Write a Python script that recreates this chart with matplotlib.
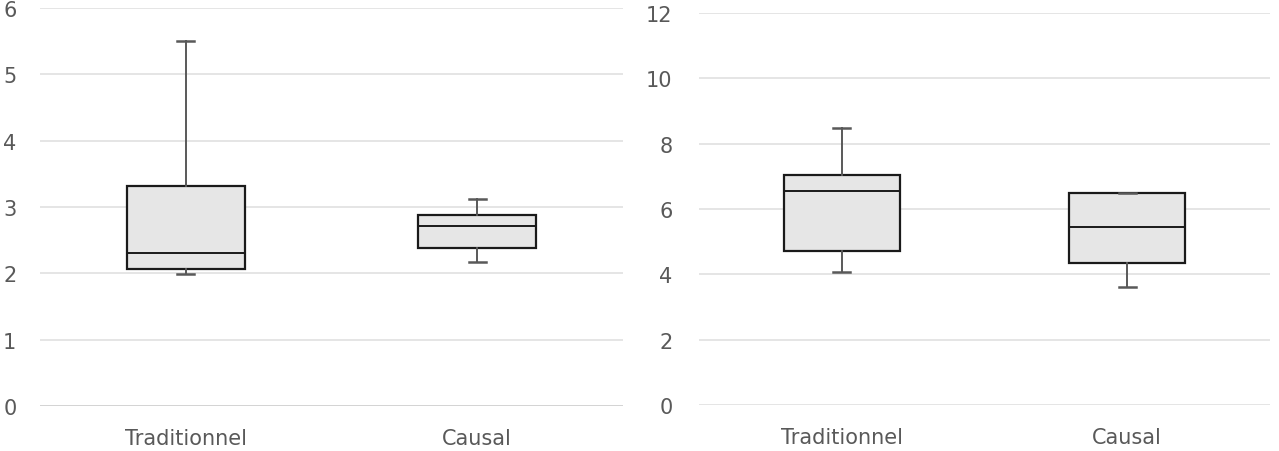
import matplotlib
matplotlib.use("Agg")
from matplotlib import pyplot as plt

plt.rcParams['font.family'] = ['DejaVu Sans']

categories = ['Traditionnel', 'Causal']

# left chart: min, q1, median, q3, max
left_min = [1.99, 2.17]
left_q1 = [2.07, 2.38]
left_med = [2.31, 2.71]
left_q3 = [3.32, 2.88]
left_max = [5.50, 3.12]
left_ticks = [0, 1, 2, 3, 4, 5, 6]

# right chart
right_min = [4.07, 3.60]
right_q1 = [4.70, 4.35]
right_med = [6.55, 5.44]
right_q3 = [7.03, 6.49]
right_max = [8.47, 6.49]
right_ticks = [0, 2, 4, 6, 8, 10, 12]

grey_text = '#595959'
grid_col = '#e0e0e0'
fill_col = '#e6e6e6'


def make_stats(mins, q1s, meds, q3s, maxs):
    stats = []
    for i in range(len(categories)):
        stats.append({'whislo': mins[i], 'q1': q1s[i], 'med': meds[i],
                      'q3': q3s[i], 'whishi': maxs[i], 'fliers': [],
                      'label': categories[i]})
    return stats


def draw(ax, stats, ticks):
    ax.bxp(stats, positions=[1, 2], widths=0.405, patch_artist=True,
           showfliers=False, capwidths=0.058,
           boxprops=dict(facecolor=fill_col, edgecolor='#1a1a1a', linewidth=1.6),
           medianprops=dict(color='#1a1a1a', linewidth=1.4),
           whiskerprops=dict(color='#595959', linewidth=1.4),
           capprops=dict(color='#595959', linewidth=1.8))
    ax.set_xlim(0.5, 2.5)
    ax.set_ylim(ticks[0], ticks[-1])
    ax.set_yticks(ticks)
    ax.set_xticks([1, 2])
    ax.set_xticklabels(categories)
    for s in ax.spines.values():
        s.set_visible(False)
    ax.yaxis.grid(True, color=grid_col, linewidth=1.2)
    ax.set_axisbelow(True)
    ax.tick_params(axis='both', length=0, labelsize=15, labelcolor=grey_text)
    ax.tick_params(axis='x', pad=16)


fig = plt.figure(figsize=(12.79, 4.52), dpi=100)

ax1 = fig.add_axes([0.0313, 0.0996, 0.4558, 0.8805])
draw(ax1, make_stats(left_min, left_q1, left_med, left_q3, left_max), left_ticks)
ax1.tick_params(axis='y', pad=17)
ax1.get_ygridlines()[0].set_color('#cccccc')

ax2 = fig.add_axes([0.5465, 0.1018, 0.4465, 0.8673])
draw(ax2, make_stats(right_min, right_q1, right_med, right_q3, right_max), right_ticks)
ax2.tick_params(axis='y', pad=19)

fig.savefig('out.png', dpi=100)
